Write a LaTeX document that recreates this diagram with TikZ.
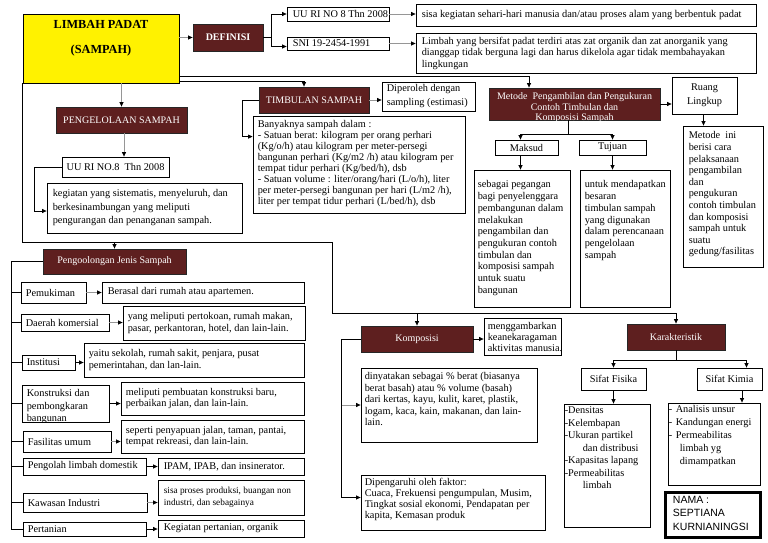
\documentclass[tikz,border=0pt]{standalone}
\usepackage{fontspec}
\setmainfont{Liberation Serif}
\newfontfamily\namafont{Liberation Sans}
\usetikzlibrary{arrows.meta}
\definecolor{maroon}{RGB}{94,31,31}
\definecolor{lgray}{RGB}{150,150,150}
\newcommand{\fsn}{\fontsize{10.3}{11.5}\selectfont}
\newcommand{\mkbox}[7][bx]{\node[#1, minimum width={(#5)-(#3)}, minimum height={(#6)-(#4)}] (#2) at ({((#3)+(#5))/2},{((#4)+(#6))/2}) {#7};}
\tikzset{
 bx/.style={draw=black, line width=0.8pt, rectangle, inner sep=0pt, fill=white, font=\fsn},
 dk/.style={draw=black!85, line width=0.8pt, rectangle, fill=maroon, text=white, inner sep=0pt, font=\fontsize{10}{12}\selectfont},
 yb/.style={draw=black, line width=0.8pt, rectangle, fill=yellow, inner sep=0pt},
 nb/.style={draw=black, line width=3.5pt, rectangle, fill=white, inner sep=0pt},
 lt/.style={anchor=west, inner sep=0pt, align=left, font=\fsn},
 tx/.style={anchor=north west, inner sep=0pt, align=left, font=\fsn},
 garr/.style={-{Triangle[length=4.5pt,width=4pt,color=black]}, line width=0.7pt, draw=lgray},
 barr/.style={-{Triangle[length=4.5pt,width=4pt]}, line width=0.7pt, draw=black},
 ln/.style={line width=0.7pt, draw=black},
}
\begin{document}
\begin{tikzpicture}[x=1pt,y=-1pt]
\useasboundingbox (0,0) rectangle (768,543);
\fill[white] (0,0) rectangle (768,543);

% ---------- top ----------
\mkbox[yb]{limbah}{23}{14}{179}{83}{}
\node[inner sep=0pt, font=\bfseries\fontsize{12.3}{14}\selectfont] (limbaht1) at (101,24.5) {LIMBAH PADAT};
\node[inner sep=0pt, font=\bfseries\fontsize{12.3}{14}\selectfont] (limbaht2) at (101,51) {(SAMPAH)};

\mkbox[dk,font=\bfseries\fontsize{10}{12}\selectfont]{definisi}{193}{24}{263}{51}{DEFINISI}
\mkbox{uu1}{287}{7}{389}{21}{}
\node[lt] (uu1t) at ([xshift=6pt]uu1.west) {UU RI NO 8 Thn 2008};
\mkbox{sni}{287}{37}{389}{50}{}
\node[lt] (snit) at ([xshift=6pt]sni.west) {SNI 19-2454-1991};
\mkbox{sisa}{416}{4}{756}{26}{}
\node[lt,font=\fontsize{10.4}{11.5}\selectfont] (sisat) at ([xshift=6pt]sisa.west) {sisa kegiatan sehari-hari manusia dan/atau proses alam yang berbentuk padat};
\mkbox{ldef}{416}{33}{756}{73}{}
\node[lt] (ldeft) at ([xshift=6pt]ldef.west) {Limbah yang bersifat padat terdiri atas zat organik dan zat anorganik yang\\dianggap tidak berguna lagi dan harus dikelola agar tidak membahayakan\\lingkungan};

% ---------- timbulan ----------
\mkbox[dk]{timbulan}{259}{87}{369}{113}{TIMBULAN SAMPAH}
\mkbox{diperoleh}{382}{82}{475}{111}{}
\node[lt,font=\fontsize{10.3}{14}\selectfont] (diperolehT) at ([xshift=5pt]diperoleh.west) {Diperoleh dengan\\sampling (estimasi)};
\mkbox{banyak}{253}{116}{465}{213}{}
\node[tx,font=\fontsize{10.3}{10.9}\selectfont] (banyakt) at ([shift={(5,5)}]banyak.north west) {Banyaknya sampah dalam :\\- Satuan berat: kilogram per orang perhari\\(Kg/o/h) atau kilogram per meter-persegi\\bangunan perhari (Kg/m2 /h) atau kilogram per\\tempat tidur perhari (Kg/bed/h), dsb\\- Satuan volume : liter/orang/hari (L/o/h), liter\\per meter-persegi bangunan per hari (L/m2 /h),\\liter per tempat tidur perhari (L/bed/h), dsb};

% ---------- metode ----------
\mkbox[dk]{metode}{489}{88}{660}{120}{}
\begin{scope}
\clip ([shift={(0.4,0.4)}]metode.north west) rectangle ([shift={(-0.4,-0.4)}]metode.south east);
\node[inner sep=0pt, anchor=north, align=center, text=white, font=\fontsize{10}{10.5}\selectfont] (metodet) at ([yshift=-5pt]metode.north) {Metode\ \ Pengambilan dan Pengukuran\\Contoh Timbulan dan\\Komposisi Sampah};
\end{scope}
\mkbox{ruang}{672}{77}{737}{114}{}
\node[inner sep=0pt, align=center, font=\fontsize{10.3}{14}\selectfont] (ruangt) at (ruang.center) {Ruang\\Lingkup};
\mkbox{mini}{683}{126}{763}{267}{}
\node[tx,font=\fontsize{10.3}{11.6}\selectfont] (minit) at ([shift={(6,6)}]mini.north west) {Metode\ \ ini\\berisi cara\\pelaksanaan\\pengambilan\\dan\\pengukuran\\contoh timbulan\\dan komposisi\\sampah untuk\\suatu\\gedung/fasilitas};
\mkbox{maksud}{495}{140}{558}{155}{Maksud}
\mkbox{tujuan}{579}{140}{646}{155}{Tujuan}
\mkbox{maksudt}{474}{170}{570}{307}{}
\node[tx,font=\fontsize{10.3}{11.7}\selectfont] (maksudtt) at ([shift={(4,11)}]maksudt.north west) {sebagai pegangan\\bagi penyelenggara\\pembangunan dalam\\melakukan\\pengambilan dan\\pengukuran contoh\\timbulan dan\\komposisi sampah\\untuk suatu\\bangunan};
\mkbox{tujuant}{580}{170}{670}{307}{}
\node[tx,font=\fontsize{10.3}{11.7}\selectfont] (tujuantt) at ([shift={(5,11)}]tujuant.north west) {untuk mendapatkan\\besaran\\timbulan sampah\\yang digunakan\\dalam perencanaan\\pengelolaan\\sampah};

% ---------- pengelolaan ----------
\mkbox[dk]{pengelolaan}{56}{107}{187}{133}{PENGELOLAAN SAMPAH}
\mkbox{uu2}{62}{157}{169}{177}{UU RI NO.8\ \ Thn 2008}
\mkbox{kegiatan}{47}{183}{242}{233}{}
\node[lt,font=\fontsize{10.3}{13.5}\selectfont] (kegiatant) at ([xshift=6pt]kegiatan.west) {kegiatan yang sistematis, menyeluruh, dan\\berkesinambungan yang meliputi\\pengurangan dan penanganan sampah.};

% ---------- pengoolongan ----------
\mkbox[dk]{pengoolongan}{43}{249}{186}{274}{Pengoolongan Jenis Sampah}
\mkbox{pemukiman}{21}{282}{86}{303}{}
\node[lt] (pemukimant) at ([xshift=5pt]pemukiman.west) {Pemukiman};
\mkbox{pemukimand}{102}{282}{304}{303}{}
\node[lt] (pemukimandt) at ([xshift=6pt]pemukimand.west) {Berasal dari rumah atau apartemen.};
\mkbox{komersial}{21}{314}{109}{331}{}
\node[lt] (komersialt) at ([xshift=5pt]komersial.west) {Daerah komersial};
\mkbox{komersiald}{123}{306}{305}{340}{}
\node[lt] (komersialdt) at ([xshift=5pt]komersiald.west) {yang meliputi pertokoan, rumah makan,\\pasar, perkantoran, hotel, dan lain-lain.};
\mkbox{institusi}{22}{355}{75}{370}{}
\node[lt] (institusit) at ([xshift=5pt]institusi.west) {Institusi};
\mkbox{institusid}{84}{343}{304}{377}{}
\node[lt] (institusidt) at ([xshift=5pt]institusid.west) {yaitu sekolah, rumah sakit, penjara, pusat\\pemerintahan, dan lan-lain.};
\mkbox{konstruksi}{22}{385}{109}{422}{}
\begin{scope}
\clip ([shift={(0.4,0.4)}]konstruksi.north west) rectangle ([shift={(-0.4,-0.4)}]konstruksi.south east);
\node[tx,font=\fontsize{10.3}{12.5}\selectfont] (konstruksit) at ([shift={(5,5)}]konstruksi.north west) {Konstruksi dan\\pembongkaran\\bangunan};
\end{scope}
\mkbox{konstruksid}{121}{382}{304}{415}{}
\node[lt] (konstruksidt) at ([xshift=5pt]konstruksid.west) {meliputi pembuatan konstruksi baru,\\perbaikan jalan, dan lain-lain.};
\mkbox{fasilitas}{23}{431}{111}{452}{}
\node[lt] (fasilitast) at ([xshift=5pt]fasilitas.west) {Fasilitas umum};
\mkbox{fasilitasd}{121}{420}{304}{453}{}
\node[lt] (fasilitasdt) at ([xshift=5pt]fasilitasd.west) {seperti penyapuan jalan, taman, pantai,\\tempat rekreasi, dan lain-lain.};
\mkbox{pengolah}{23}{458}{146}{475}{}
\node[lt] (pengolaht) at ([xshift=5pt]pengolah.west) {Pengolah limbah domestik};
\mkbox{pengolahd}{158}{458}{304}{475}{}
\node[lt] (pengolahdt) at ([xshift=6pt]pengolahd.west) {IPAM, IPAB, dan insinerator.};
\mkbox{kawasan}{23}{493}{147}{512}{}
\node[lt] (kawasant) at ([xshift=5pt]kawasan.west) {Kawasan Industri};
\mkbox{kawasand}{158}{480}{304}{515}{}
\node[lt,font=\fontsize{9.3}{12}\selectfont] (kawasandt) at ([xshift=6pt]kawasand.west) {sisa proses produksi, buangan non\\industri, dan sebagainya};
\mkbox{pertanian}{23}{522}{146}{536}{}
\node[lt] (pertaniant) at ([xshift=5pt]pertanian.west) {Pertanian};
\mkbox{pertaniand}{158}{520}{304}{537}{}
\node[lt] (pertaniandt) at ([xshift=6pt]pertaniand.west) {Kegiatan pertanian, organik};

% ---------- komposisi ----------
\mkbox[dk]{komposisi}{361}{326}{473}{352}{Komposisi}
\mkbox{mengg}{484}{318}{561}{355}{}
\node[lt,font=\fontsize{10.3}{11}\selectfont] (menggt) at ([xshift=4pt]mengg.west) {menggambarkan\\keanekaragaman\\aktivitas manusia.};
\mkbox{dinyatakan}{361}{368}{537}{442}{}
\node[tx,font=\fontsize{10.3}{11.5}\selectfont] (dinyatakant) at ([shift={(4,5)}]dinyatakan.north west) {dinyatakan sebagai \% berat (biasanya\\berat basah) atau \% volume (basah)\\dari kertas, kayu, kulit, karet, plastik,\\logam, kaca, kain, makanan, dan lain-\\lain.};
\mkbox{dipengaruhi}{361}{475}{545}{530}{}
\node[tx,font=\fontsize{10.3}{11}\selectfont] (dipengaruhit) at ([shift={(4,3.5)}]dipengaruhi.north west) {Dipengaruhi oleh faktor:\\Cuaca, Frekuensi pengumpulan, Musim,\\Tingkat sosial ekonomi, Pendapatan per\\kapita, Kemasan produk};

% ---------- karakteristik ----------
\mkbox[dk]{karakteristik}{627}{324}{725}{350}{Karakteristik}
\mkbox{fisika}{581}{368}{646}{390}{Sifat Fisika}
\mkbox{kimia}{697}{368}{762}{390}{Sifat Kimia}
\mkbox{fisikat}{564}{404}{650}{527}{}
\node[tx,font=\fontsize{10.3}{12.5}\selectfont] (fisikatt) at ([shift={(1,3)}]fisikat.north west) {-Densitas\\-Kelembapan\\-Ukuran partikel\\\hspace*{18pt}dan distribusi\\-Kapasitas lapang\\-Permeabilitas\\\hspace*{18pt}limbah};
\mkbox{kimiat}{668}{403}{760}{485}{}
\node[tx,font=\fontsize{10.3}{12.8}\selectfont] (kimiatt) at ([shift={(1,3)}]kimiat.north west) {\makebox[7pt][l]{-}Analisis unsur\\\makebox[7pt][l]{-}Kandungan energi\\\makebox[7pt][l]{-}Permeabilitas\\\hspace*{11pt}limbah yg\\\hspace*{11pt}dimampatkan};
\mkbox[nb]{nama}{665.5}{492.5}{760.5}{537.5}{}
\node[tx,font=\namafont\fontsize{10.5}{13.5}\selectfont] (namat) at ([shift={(9,5)}]nama.north west) {NAMA :\\SEPTIANA\\KURNIANINGSI};

% ---------- connectors ----------
\draw[garr] (definisi.west -| limbah.east) -- (definisi.west);
\coordinate (br) at (271,0);
\draw[ln] (definisi.east) -- (definisi.east -| br);
\draw[barr] (definisi.east -| br) |- (uu1.west);
\draw[barr] (definisi.east -| br) |- ([yshift=-3pt]sni.west);
\draw[garr] (uu1.east) -- (uu1.east -| sisa.west);
\draw[garr] (sni.east) -- (sni.east -| ldef.west);

\coordinate (m1) at (529,76);
\coordinate (t1) at (304,81);
\draw[barr] (limbah.east |- m1) -- (m1) -- (m1 |- metode.north);
\draw[barr] (limbah.east |- t1) -- (t1) -- (t1 |- timbulan.north);
\draw[garr] (limbah.south -| pengelolaan.north) -- (pengelolaan.north);
\draw[garr] ([xshift=2.5pt]pengelolaan.south) -- ([xshift=2.5pt]pengelolaan.south |- uu2.north);
\draw[barr] (uu2.west) -- ++(-27,0) |- ([yshift=-3pt]kegiatan.west);

\draw[garr] (timbulan.east) -- (timbulan.east -| diperoleh.west);
\draw[barr] (timbulan.west) -- ++(-16,0) |- ([yshift=-21pt]banyak.north west);

\draw[barr] (metode.east) -- (metode.east -| ruang.west);
\draw[barr] ([xshift=-1pt]ruang.south) -- ([xshift=-1pt]ruang.south |- mini.north);
\draw[ln] ([xshift=-6pt]metode.south) -- ++(0,14) coordinate (mj);
\draw[barr] (mj) -| ([xshift=-6pt]maksud.north);
\draw[barr] (mj) -| (tujuan.north);
\draw[barr] ([xshift=-6pt]maksud.south) -- ([xshift=-6pt]maksud.south |- maksudt.north);
\draw[barr] (tujuan.south) -- (tujuan.south |- tujuant.north);

\coordinate (h1) at (332,242);
\coordinate (h2) at (332,313);
\draw[ln] (limbah.south west) |- (h1) -- (h2);
\draw[barr] (h2) -| (karakteristik.north);
\draw[barr] (pengoolongan.north |- h1) -- (pengoolongan.north);
\draw[barr] (komposisi.north |- h2) -- (komposisi.north);

\coordinate (sp) at (11,0);
\draw[ln] (pengoolongan.west) -| (sp |- pertanian.west) -- (pertanian.west);
\foreach \c in {pemukiman,komersial,institusi,konstruksi,fasilitas,pengolah,kawasan}
  \draw[ln] (sp |- \c.west) -- (\c.west);
\draw[garr] (pemukiman.east) -- (pemukiman.east -| pemukimand.west);
\draw[garr] (komersial.east) -- (komersial.east -| komersiald.west);
\draw[barr] (institusi.east) -- (institusi.east -| institusid.west);
\draw[barr] (konstruksi.east) -- (konstruksi.east -| konstruksid.west);
\draw[garr] (fasilitas.east) -- (fasilitas.east -| fasilitasd.west);
\draw[barr] (pengolah.east) -- (pengolah.east -| pengolahd.west);
\draw[garr] (kawasan.east) -- (kawasan.east -| kawasand.west);
\draw[barr] (pertanian.east) -- (pertanian.east -| pertaniand.west);

\draw[barr] (komposisi.east) -- (komposisi.east -| mengg.west);
\draw[ln] (komposisi.west) -- ++(-19,0) coordinate (kj);
\draw[barr] (kj) |- ([yshift=5pt]dipengaruhi.west);
\draw[garr] (kj |- dinyatakan.west) -- (dinyatakan.west);

\draw[ln] (karakteristik.south) -- ++(0,10) coordinate (kk);
\draw[barr] (kk) -| (fisika.north);
\draw[barr] (kk) -| ([xshift=17pt]kimia.north);
\draw[barr] (fisika.south) -- (fisika.south |- fisikat.north);
\draw[barr] ([xshift=12.5pt]kimia.south) -- ([xshift=12.5pt]kimia.south |- kimiat.north);
\end{tikzpicture}
\end{document}
